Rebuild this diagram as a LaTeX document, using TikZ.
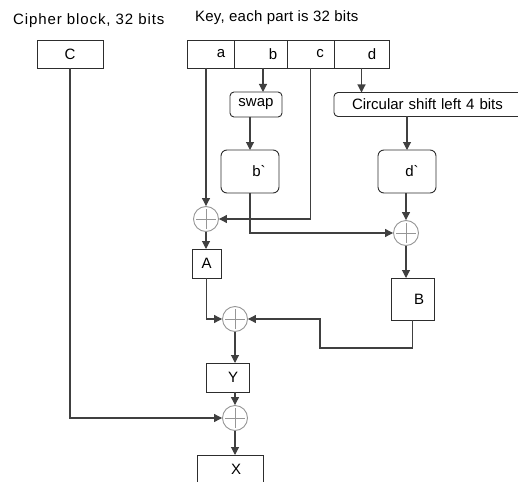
\documentclass[tikz,border=0pt]{standalone}
\usepackage{fontspec}
\setmainfont{Liberation Sans}
\usetikzlibrary{arrows.meta,positioning}
\definecolor{linegray}{RGB}{64,64,64}
\definecolor{xorgray}{RGB}{150,150,150}
\definecolor{boxblack}{RGB}{45,45,45}

\begin{document}
\begin{tikzpicture}[
  x=1pt,y=-1pt,
  font=\fontsize{15}{17}\selectfont,
  ttl/.style={anchor=west,inner sep=0pt},
  box/.style={rectangle,draw=boxblack,line width=0.9pt,inner sep=0pt,outer sep=0pt,
    minimum height=28pt},
  rbox/.style={box,rounded corners=4pt},
  keycell/.style={box,minimum width=#1},
  xor/.style={circle,draw=xorgray,line width=0.9pt,minimum size=25pt,inner sep=0pt,
    path picture={\draw[xorgray,line width=0.9pt]
      ([xshift=-10pt]path picture bounding box.center) -- ([xshift=10pt]path picture bounding box.center)
      ([yshift=-10pt]path picture bounding box.center) -- ([yshift=10pt]path picture bounding box.center);}},
  arr/.style={-{Triangle[length=8pt,width=8pt]},linegray,line width=1.1pt},
]
  \useasboundingbox (0,0) rectangle (518,481);
  \clip (0,0) rectangle (518,481);

  \node[ttl] (cipherlbl) at (13,21) {\addfontfeature{LetterSpace=6}Cipher block, 32 bits};
  \node[ttl] (keylbl) at (195,18) {\addfontfeature{LetterSpace=1.5}Key, each part is 32 bits};

  % cipher block and key parts
  \node[box,minimum width=66pt] (C) at (70,54.5) {C};
  \node[keycell=47pt] (a) at (210.5,54) {\hspace*{21pt}a};
  \node[keycell=53pt,right=0pt of a] (b) {\hspace*{25pt}b};
  \node[keycell=47pt,right=0pt of b] (c) {\hspace*{19pt}c};
  \node[keycell=55pt,right=0pt of c] (d) {\hspace*{21pt}d};

  \node[rbox,minimum width=52pt,minimum height=25pt] (swap) at (256,104.5) {swap};
  \node[rbox,text width=160pt,align=left,inner xsep=18pt,minimum height=24pt] (shift) at (432,104.5) {Circular shift left 4 bits};
  \node[rbox,rounded corners=6pt,minimum width=58pt,minimum height=43pt] (bp) at (250,171.5) {\hspace*{18pt}b\textasciigrave};
  \node[rbox,rounded corners=6pt,minimum width=58pt,minimum height=43pt] (dp) at (407,171.5) {\hspace*{10pt}d\textasciigrave};

  \node[xor] (x1) at (206,219) {};
  \node[xor] (x2) at (406,233) {};
  \node[box,minimum width=29pt,minimum height=29pt] (A) at (206.5,263.5) {A};
  \node[box,minimum width=43pt,minimum height=42pt] (B) at (412.5,299) {\hspace*{13pt}B};
  \node[xor] (x3) at (235,319) {};
  \node[box,minimum width=43pt,minimum height=29pt] (Y) at (227.5,377.5) {\hspace*{11pt}Y};
  \node[xor] (x4) at (235,418) {};
  \node[box,minimum width=66pt,minimum height=28pt] (X) at (230,469) {\hspace*{12pt}X};
  \coordinate (bend) at (320,348);

  \draw[arr] ([xshift=2.5pt]b.south) -- ([xshift=2.5pt]b.south |- swap.north);
  \draw[arr] (d.south) -- (d.south |- shift.north);
  \draw[arr] (swap.south -| bp.north) -- (bp.north);
  \draw[arr] (shift.south -| dp.north) -- (dp.north);
  \draw[arr] (a.south -| x1.north) -- (x1.north);
  \draw[arr] (c.south) |- (x1.east);
  \draw[arr] (bp.south) |- (x2.west);
  \draw[arr] (dp.south -| x2.north) -- (x2.north);
  \draw[arr] (x1.south) -- (x1.south |- A.north);
  \draw[arr] (x2.south) -- (x2.south |- B.north);
  \draw[arr] (A.south) |- (x3.west);
  \draw[arr] (B.south) |- (bend) |- (x3.east);
  \draw[arr] (x3.south) -- (x3.south |- Y.north);
  \draw[arr] (Y.south -| x4.north) -- (x4.north);
  \draw[arr] (C.south) |- (x4.west);
  \draw[arr] (x4.south) -- (x4.south |- X.north);
\end{tikzpicture}
\end{document}
